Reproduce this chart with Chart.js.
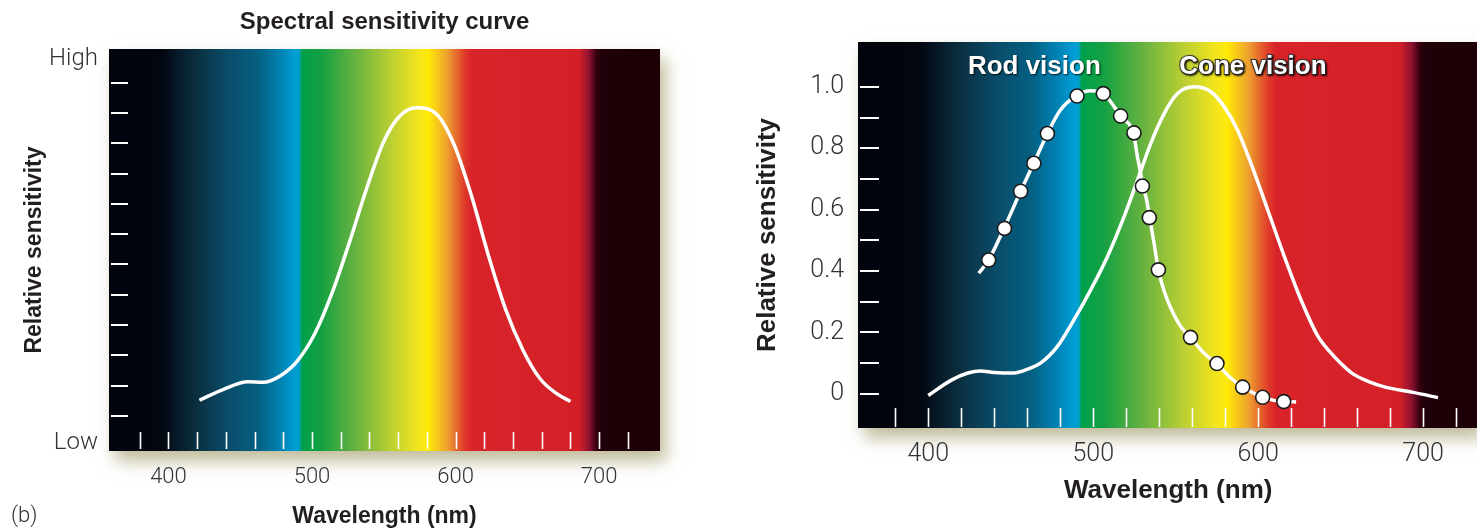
<!DOCTYPE html>
<html>
<head>
<meta charset="utf-8">
<script src="https://cdn.jsdelivr.net/npm/chart.js@4.4.1/dist/chart.umd.min.js"></script>
<style>
  body { margin: 0; background: #fff; width: 1477px; height: 530px; overflow: hidden; position: relative; }
  canvas { position: absolute; top: 0; }
  #left { left: 0; }
  #right { left: 740px; }
</style>
</head>
<body>
<canvas id="left" width="700" height="530"></canvas>
<canvas id="right" width="747" height="530"></canvas>
<script>
// ---- values ----
const spectralNm   = [421.6, 438.8, 455.4, 466, 478, 490, 502, 514, 526, 538, 550, 561, 573, 587, 599, 611, 623, 635, 647, 659, 671, 680];
const spectralSens = [1.52, 1.89, 2.13, 2.11, 2.33, 2.83, 3.72, 5.06, 6.72, 8.5, 10.06, 10.89, 11.17, 10.95, 9.95, 8.28, 6.28, 4.5, 3.17, 2.22, 1.72, 1.48];

const rodCurveNm  = [430.6, 436.6, 446, 456, 464, 472, 480, 490, 498.4, 506, 516.6, 524.7, 526.8, 528.4, 530, 532.4, 534.2, 536.9, 539.5, 543, 547, 553, 559, 567.3, 575, 583.5, 591, 603, 615.5, 623];
const rodCurveVal = [0.393, 0.436, 0.54, 0.66, 0.752, 0.845, 0.924, 0.972, 0.987, 0.978, 0.905, 0.84, 0.772, 0.729, 0.68, 0.631, 0.574, 0.49, 0.404, 0.335, 0.28, 0.22, 0.184, 0.132, 0.098, 0.051, 0.022, -0.011, -0.025, -0.026];

const rodPointNm  = [436.6, 446.2, 456.0, 464.0, 472.2, 490.2, 506.1, 516.6, 524.7, 529.8, 534.0, 539.5, 559.0, 575.0, 590.6, 602.7, 615.5];
const rodPointVal = [0.436, 0.539, 0.660, 0.751, 0.848, 0.970, 0.978, 0.905, 0.850, 0.677, 0.574, 0.404, 0.184, 0.099, 0.022, -0.011, -0.025];

const coneNm  = [400, 414, 424, 431.6, 440, 452, 461, 468, 478.2, 488.3, 498.4, 508.6, 518.7, 526.8, 534.9, 543, 551.1, 561.2, 571.3, 579.4, 587.5, 595.6, 605.8, 615.9, 626, 636, 643, 650, 657, 667, 677, 694, 709];
const coneVal = [-0.005, 0.045, 0.068, 0.075, 0.07, 0.068, 0.082, 0.1, 0.154, 0.241, 0.338, 0.447, 0.577, 0.696, 0.816, 0.913, 0.978, 1.0, 0.984, 0.935, 0.859, 0.751, 0.599, 0.447, 0.306, 0.19, 0.14, 0.1, 0.067, 0.04, 0.022, 0.005, -0.012];

const xTickLabels = [400, 500, 600, 700];
const xTickMarks  = [380, 400, 420, 440, 460, 480, 500, 520, 540, 560, 580, 600, 620, 640, 660, 680, 700, 720];

const leftYMarks     = [1, 2, 3, 4, 5, 6, 7, 8, 9, 10, 11, 12];
const leftYLabels    = ['Low', 'High'];
const leftYLabelVals = [0.1, 12.77];

const rightYLabels = [0, 0.2, 0.4, 0.6, 0.8, 1.0];
const rightYMarks  = [0, 0.1, 0.2, 0.3, 0.4, 0.5, 0.6, 0.7, 0.8, 0.9, 1.0];

const seriesNames = ['Rod vision', 'Cone vision'];

// visible spectrum behind the plots
const spectrumNm     = [340, 395, 403, 418, 441, 462, 480, 488, 491, 493, 506, 532, 557, 576, 581, 594, 606, 611, 686, 693, 698, 702, 760];
const spectrumColors = ['#02030c', '#02060f', '#061421', '#0a2d3e', '#0a4c69', '#045f81', '#0087ba', '#009dd4', '#00a0cf', '#00a04b', '#14a043', '#6db43f', '#c2d231', '#f7e61a', '#ffea05', '#eea230', '#df3c2a', '#d82329', '#d32027', '#8e1131', '#33000f', '#1f0008', '#1a0005'];

const pts = (xs, ys) => xs.map((x, i) => ({ x: x, y: ys[i] }));

const BOLD = "'Liberation Sans', Arial, sans-serif";
const LIGHT = "Roboto, 'Liberation Sans', Arial, sans-serif";
const TEXT = '#231f20';

const spectrumBg = {
  id: 'spectrumBg',
  beforeDraw(chart) {
    const { ctx, chartArea: a, scales: { x } } = chart;
    const p0 = x.getPixelForValue(spectrumNm[0]);
    const p1 = x.getPixelForValue(spectrumNm[spectrumNm.length - 1]);
    const g = ctx.createLinearGradient(p0, 0, p1, 0);
    spectrumNm.forEach((nm, i) => {
      g.addColorStop((x.getPixelForValue(nm) - p0) / (p1 - p0), spectrumColors[i]);
    });
    ctx.save();
    ctx.shadowColor = 'rgba(140, 130, 70, 0.55)';
    ctx.shadowBlur = 16;
    ctx.shadowOffsetX = 6;
    ctx.shadowOffsetY = 10;
    ctx.fillStyle = g;
    ctx.fillRect(a.left, a.top, a.right - a.left, a.bottom - a.top);
    ctx.restore();
  }
};

// white tick dashes drawn inside the plot
const innerTicks = {
  id: 'innerTicks',
  beforeDatasetsDraw(chart, args, opts) {
    const { ctx, chartArea: a, scales: { x, y } } = chart;
    ctx.save();
    ctx.strokeStyle = '#ffffff';
    ctx.lineWidth = 2;
    ctx.beginPath();
    opts.yMarks.forEach(v => {
      const py = Math.round(y.getPixelForValue(v));
      ctx.moveTo(a.left + opts.yFrom, py);
      ctx.lineTo(a.left + opts.yTo, py);
    });
    ctx.stroke();
    ctx.lineWidth = 1.6;
    ctx.beginPath();
    xTickMarks.forEach(v => {
      const px = Math.round(x.getPixelForValue(v)) + 0.5;
      ctx.moveTo(px, a.bottom - opts.xFrom);
      ctx.lineTo(px, a.bottom - opts.xTo);
    });
    ctx.stroke();
    ctx.restore();
  }
};

const xScale = (min, max, tickSize, padding, titleSize, titleBottom, height) => ({
  type: 'linear',
  min: min,
  max: max,
  afterBuildTicks: s => { s.ticks = xTickLabels.map(v => ({ value: v })); },
  afterFit: s => { s.height = height; },
  grid: { display: false, drawTicks: false },
  border: { display: false },
  ticks: { color: '#333', padding: padding, font: { family: LIGHT, size: tickSize, weight: '300' } },
  title: { display: true, text: 'Wavelength (nm)', color: TEXT, font: { family: BOLD, size: titleSize, weight: 'bold' }, padding: { top: 0, bottom: titleBottom } }
});

const commonPlugins = {
  legend: { display: false },
  tooltip: { enabled: false },
  title: { display: false }
};

// ---- left: spectral sensitivity curve ----
new Chart(document.getElementById('left'), {
  type: 'line',
  data: {
    datasets: [{
      data: pts(spectralNm, spectralSens),
      borderColor: '#ffffff',
      borderWidth: 3.5,
      pointRadius: 0,
      cubicInterpolationMode: 'monotone',
      fill: false
    }]
  },
  options: {
    responsive: false,
    animation: false,
    layout: { padding: { left: 0, right: 40, top: 49, bottom: 0 } },
    scales: {
      x: xScale(358.6, 742.4, 22, 13, 23, 0, 79),
      y: {
        type: 'linear',
        min: -0.155,
        max: 13.11,
        afterBuildTicks: s => { s.ticks = leftYLabelVals.map(v => ({ value: v })); },
        afterFit: s => { s.width = 109; },
        grid: { display: false, drawTicks: false },
        border: { display: false },
        ticks: {
          color: '#333',
          padding: 11,
          font: { family: LIGHT, size: 24, weight: '300' },
          callback: (v, i) => leftYLabels[i]
        },
        title: { display: true, text: 'Relative sensitivity', color: TEXT, font: { family: BOLD, size: 23, weight: 'bold' }, padding: { top: 21, bottom: 0 } }
      }
    },
    plugins: {
      ...commonPlugins,
      innerTicks: { yMarks: leftYMarks, yFrom: 2, yTo: 19, xFrom: 2, xTo: 19 }
    }
  },
  plugins: [spectrumBg, innerTicks, {
    id: 'headings',
    afterDraw(chart) {
      const { ctx, chartArea: a } = chart;
      ctx.save();
      ctx.textBaseline = 'middle';
      ctx.fillStyle = TEXT;
      ctx.textAlign = 'center';
      ctx.font = `bold 24px ${BOLD}`;
      ctx.fillText('Spectral sensitivity curve', (a.left + a.right) / 2, 22);
      ctx.textAlign = 'left';
      ctx.fillStyle = '#333';
      ctx.font = `300 22px ${LIGHT}`;
      ctx.fillText('(b)', 11, 516);
      ctx.restore();
    }
  }]
});

// ---- right: rod vs cone vision ----
new Chart(document.getElementById('right'), {
  type: 'line',
  data: {
    datasets: [
      {
        label: seriesNames[0] + ' data',
        data: pts(rodPointNm, rodPointVal),
        showLine: false,
        pointRadius: 7,
        pointBackgroundColor: '#ffffff',
        pointBorderColor: '#1c1c1c',
        pointBorderWidth: 1.6
      },
      {
        label: seriesNames[0],
        data: pts(rodCurveNm, rodCurveVal),
        borderColor: '#ffffff',
        borderWidth: 3.5,
        pointRadius: 0,
        cubicInterpolationMode: 'monotone',
        fill: false
      },
      {
        label: seriesNames[1],
        data: pts(coneNm, coneVal),
        borderColor: '#ffffff',
        borderWidth: 3.5,
        pointRadius: 0,
        cubicInterpolationMode: 'monotone',
        fill: false
      }
    ]
  },
  options: {
    responsive: false,
    animation: false,
    layout: { padding: { left: 0, right: 0, top: 42, bottom: 0 } },
    scales: {
      x: xScale(357.4, 733.5, 25, 12, 26, 24, 102),
      y: {
        type: 'linear',
        min: -0.111,
        max: 1.146,
        afterBuildTicks: s => { s.ticks = rightYLabels.map(v => ({ value: v })); },
        afterFit: s => { s.width = 118; },
        grid: { display: false, drawTicks: false },
        border: { display: false },
        ticks: {
          color: '#333',
          padding: 14,
          font: { family: LIGHT, size: 25, weight: '300' },
          callback: v => (v === 0 ? '0' : v.toFixed(1))
        },
        title: { display: true, text: 'Relative sensitivity', color: TEXT, font: { family: BOLD, size: 26, weight: 'bold' }, padding: { top: 12, bottom: 0 } }
      }
    },
    plugins: {
      ...commonPlugins,
      innerTicks: { yMarks: rightYMarks, yFrom: 2, yTo: 21, xFrom: 1, xTo: 20 }
    }
  },
  plugins: [spectrumBg, innerTicks, {
    id: 'seriesNames',
    afterDatasetsDraw(chart) {
      const { ctx, scales: { x, y } } = chart;
      ctx.save();
      ctx.font = `bold 26px ${BOLD}`;
      ctx.textAlign = 'center';
      ctx.textBaseline = 'middle';
      ctx.shadowColor = 'rgba(0, 0, 0, 0.8)';
      ctx.shadowBlur = 2;
      ctx.shadowOffsetX = 1;
      ctx.shadowOffsetY = 1;
      ctx.fillStyle = '#ffffff';
      ctx.fillText(seriesNames[0], x.getPixelForValue(464.3), y.getPixelForValue(1.065));
      ctx.strokeStyle = '#3a3a3a';
      ctx.lineWidth = 2;
      const cx = x.getPixelForValue(596.8), cy = y.getPixelForValue(1.065);
      ctx.strokeText(seriesNames[1], cx, cy);
      ctx.fillText(seriesNames[1], cx, cy);
      ctx.restore();
    }
  }]
});
</script>
</body>
</html>
